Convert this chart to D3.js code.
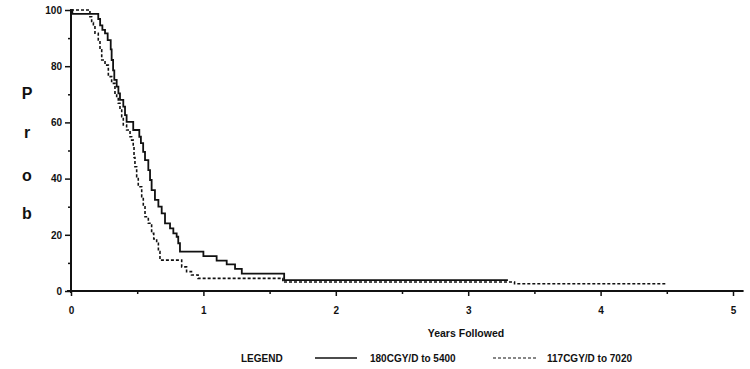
<!DOCTYPE html>
<html>
<head>
<meta charset="utf-8">
<script src="https://cdn.jsdelivr.net/npm/d3@7"></script>
<style>
  body { margin: 0; background: #fff; }
  svg { display: block; font-family: "Liberation Sans", Arial, sans-serif; font-weight: bold; }
</style>
</head>
<body>
<svg id="chart"></svg>
<script>
// Survival curves (years, percent)
const solidTimes = [0, 0.01, 0.206, 0.22, 0.237, 0.257, 0.277, 0.3, 0.307, 0.318, 0.327, 0.345, 0.358, 0.37, 0.395, 0.408, 0.42, 0.47, 0.516, 0.528, 0.545, 0.559, 0.584, 0.597, 0.609, 0.634, 0.66, 0.685, 0.71, 0.748, 0.773, 0.798, 0.81, 0.823, 1.0, 1.1, 1.176, 1.239, 1.29, 1.61, 3.3];
const solidValues = [100, 98.6, 96.8, 94.5, 92.9, 91.7, 89.3, 86, 82.2, 78.5, 75.1, 72.7, 70.3, 68, 65.6, 62.6, 60.2, 57.3, 54.9, 52.6, 49.5, 46.6, 43, 39.5, 35.9, 32.4, 30, 27.6, 24.1, 22.3, 20.5, 19.3, 17, 14, 12.4, 10.8, 9.5, 7.9, 6.2, 3.9, 3.9];

const dashedTimes = [0, 0.143, 0.156, 0.169, 0.181, 0.206, 0.219, 0.232, 0.257, 0.282, 0.307, 0.332, 0.345, 0.357, 0.37, 0.383, 0.395, 0.42, 0.446, 0.458, 0.47, 0.476, 0.483, 0.496, 0.508, 0.534, 0.546, 0.559, 0.584, 0.609, 0.625, 0.647, 0.66, 0.672, 0.836, 0.873, 0.91, 0.96, 1.6, 3.35, 4.5];
const dashedValues = [100, 97.6, 95.5, 94, 91.7, 89.3, 85.8, 82.2, 80.4, 76.3, 73.9, 70.4, 68.5, 66.8, 64.4, 62, 59.1, 57.3, 54.9, 53.7, 51.4, 47.5, 44.2, 40.7, 37.1, 33.6, 30, 26.4, 24.1, 20.5, 18.5, 17, 14, 11, 8.6, 6.9, 5.7, 4.5, 3.2, 2.6, 2.6];

const xMajor = [0, 1, 2, 3, 4, 5];
const xMinor = [0.5, 1.5, 2.5, 3.5, 4.5];
const yMajor = [0, 20, 40, 60, 80, 100];
const yMinor = [10, 30, 50, 70, 90];
const yTitle = ['P', 'r', 'o', 'b'];
const seriesNames = ['180CGY/D to 5400', '117CGY/D to 7020'];

const W = 750, H = 369;
const margin = { top: 10, left: 71, right: 17, bottom: 78 };
const width = W - margin.left - margin.right;
const height = H - margin.top - margin.bottom;

const svg = d3.select('#chart').attr('width', W).attr('height', H);
const g = svg.append('g').attr('transform', `translate(${margin.left},${margin.top})`);

const x = d3.scaleLinear().domain([0, 5]).range([0, width]);
const y = d3.scaleLinear().domain([0, 100]).range([height, 0]);

// x axis: major + minor ticks, with a longer base line
const xAxis = g.append('g').attr('transform', `translate(0,${height})`)
  .call(d3.axisBottom(x).tickValues(xMajor).tickSize(5).tickPadding(11).tickFormat(d3.format('d')));
xAxis.select('.domain').remove();
g.append('g').attr('transform', `translate(0,${height})`)
  .call(d3.axisBottom(x).tickValues(xMinor).tickSize(3).tickFormat(''))
  .select('.domain').remove();
g.append('line')
  .attr('x1', x(-0.03)).attr('x2', x(5.08))
  .attr('y1', height).attr('y2', height)
  .attr('stroke', '#111').attr('stroke-width', 2);

// y axis
const yAxis = g.append('g')
  .call(d3.axisLeft(y).tickValues(yMajor).tickSize(6).tickPadding(3));
yAxis.select('.domain').remove();
g.append('g')
  .call(d3.axisLeft(y).tickValues(yMinor).tickSize(3).tickFormat(''))
  .select('.domain').remove();
g.append('line')
  .attr('x1', 0).attr('x2', 0)
  .attr('y1', y(0) + 2).attr('y2', y(100) - 1)
  .attr('stroke', '#111').attr('stroke-width', 2);

g.selectAll('.tick line').attr('stroke', '#111').attr('stroke-width', 1.5);
g.selectAll('.tick text').attr('fill', '#111').style('font-size', '10px').style('font-weight', 'bold');

// vertical stacked y title
svg.selectAll('.ytitle')
  .data(yTitle)
  .enter().append('text')
  .attr('class', 'ytitle')
  .attr('x', 27)
  .attr('y', (d, i) => [99, 138, 181, 219][i])
  .attr('text-anchor', 'middle')
  .style('font-size', '16px')
  .attr('fill', '#111')
  .text(d => d);

// x title
svg.append('text')
  .attr('x', 466).attr('y', 337)
  .attr('text-anchor', 'middle')
  .style('font-size', '10.5px')
  .attr('fill', '#111')
  .text('Years Followed');

// curves
const line = d3.line().curve(d3.curveStepAfter).x(d => x(d[0])).y(d => y(d[1]));
const solid = solidTimes.map((t, i) => [t, solidValues[i]]);
const dashed = dashedTimes.map((t, i) => [t, dashedValues[i]]);

g.append('path').datum(dashed)
  .attr('d', line).attr('fill', 'none')
  .attr('stroke', '#111').attr('stroke-width', 1.6)
  .attr('stroke-dasharray', '3,2');
g.append('path').datum(solid)
  .attr('d', line).attr('fill', 'none')
  .attr('stroke', '#111').attr('stroke-width', 1.8);

// legend
const legend = svg.append('g').attr('transform', 'translate(0,362)');
legend.append('text').attr('x', 241).attr('y', 0).style('font-size', '10px').attr('fill', '#111').text('LEGEND');
legend.append('line').attr('x1', 315).attr('x2', 357).attr('y1', -4).attr('y2', -4)
  .attr('stroke', '#111').attr('stroke-width', 1.5);
legend.append('text').attr('x', 370).attr('y', 0).style('font-size', '10px').attr('fill', '#111').text(seriesNames[0]);
legend.append('line').attr('x1', 493).attr('x2', 537).attr('y1', -4).attr('y2', -4)
  .attr('stroke', '#111').attr('stroke-width', 1.2).attr('stroke-dasharray', '3,2');
legend.append('text').attr('x', 547).attr('y', 0).style('font-size', '10px').attr('fill', '#111').text(seriesNames[1]);
</script>
</body>
</html>
